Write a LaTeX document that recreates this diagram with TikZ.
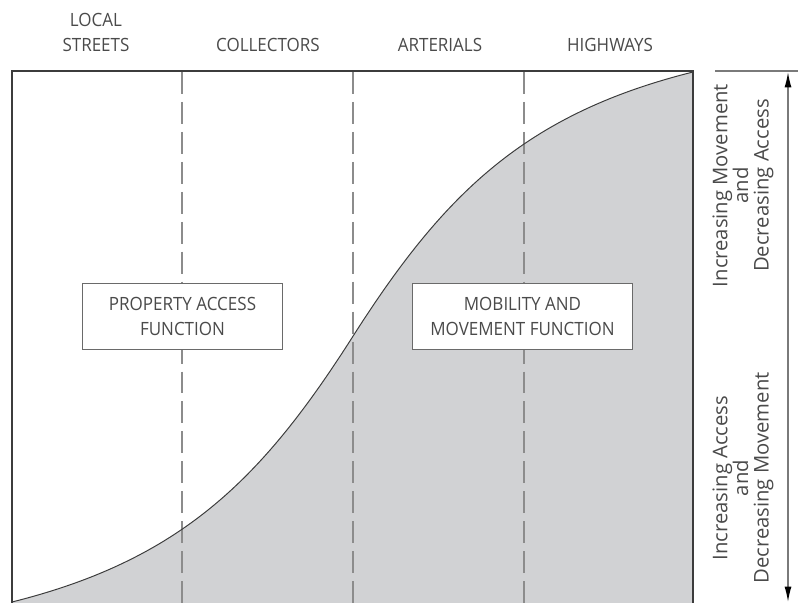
\documentclass[tikz,border=0pt]{standalone}
\usepackage{fontspec}
\setmainfont{Open Sans}[FakeStretch=0.93]
\newfontfamily\sidefont{Open Sans}
\usetikzlibrary{arrows.meta}
\definecolor{inkgray}{HTML}{4A4A4A}
\definecolor{framegray}{HTML}{3C3C3C}
\definecolor{dashgray}{HTML}{8C8C8C}
\definecolor{boxgray}{HTML}{6A6A6A}
\definecolor{arrowgray}{HTML}{7A7A7A}
\definecolor{areagray}{HTML}{D1D2D4}
\begin{document}
\begin{tikzpicture}[x=0.025cm,y=-0.025cm,
  roadlabel/.style={text=inkgray,font=\fontsize{13}{17.7}\selectfont,align=center,inner sep=0pt},
  funcbox/.style={draw=boxgray,line width=0.7pt,fill=white,text=inkgray,
    font=\fontsize{13}{18.4}\selectfont,align=center,minimum height=1.625cm},
  sidetext/.style={text=inkgray,font=\sidefont\fontsize{14.4}{14.6}\selectfont,
    align=center,rotate=90,inner sep=0pt}]

\useasboundingbox (0,0) rectangle (798,603);

% area under the curve
\fill[areagray] (12,602) .. controls (182,559.5) and (262.5,478.3) .. (352.5,337)
  .. controls (442.5,195.7) and (523,114.5) .. (693,72) -- (693,603) -- (12,603) -- cycle;

\foreach \x in {182,353,524} {
  \draw[dashgray, line width=1pt, dash pattern=on 15.6pt off 5.7pt] (\x,72) -- (\x,603);
}

\draw[framegray, line width=0.7pt] (12,602) .. controls (182,559.5) and (262.5,478.3) .. (352.5,337)
  .. controls (442.5,195.7) and (523,114.5) .. (693,72);

% frame
\draw[framegray, line width=1.3pt] (12,603) -- (12,71) -- (693,71) -- (693,603);

% road classes
\node[roadlabel] (local) at (96,32.5) {LOCAL\\STREETS};
\node[roadlabel] (collect) at (268,45) {COLLECTORS};
\node[roadlabel] (arterial) at (440,45) {ARTERIALS};
\node[roadlabel] (highway) at (610,45) {HIGHWAYS};

\node[funcbox, minimum width=4.975cm] (access) at (182.5,316.5) {PROPERTY ACCESS\\FUNCTION};
\node[funcbox, minimum width=5.475cm] (mobility) at (522.5,316.5) {MOBILITY AND\\MOVEMENT FUNCTION};

% scale on the right
\coordinate (tickL) at (715,71);
\coordinate (tickR) at (798,71);
\coordinate (scaletop) at (788,72);
\coordinate (scalebot) at (788,602);
\draw[arrowgray, line width=1pt] (tickL) -- (tickR);
\draw[arrowgray, line width=1pt, {Latex[length=11pt,width=5pt,color=black]}-{Latex[length=11pt,width=5pt,color=black]}] (scaletop) -- (scalebot);

\node[sidetext] (upward) at (743,185.5) {Increasing Movement\\and\\Decreasing Access};
\node[sidetext] (downward) at (743,478) {Increasing Access\\and\\Decreasing Movement};
\end{tikzpicture}
\end{document}
